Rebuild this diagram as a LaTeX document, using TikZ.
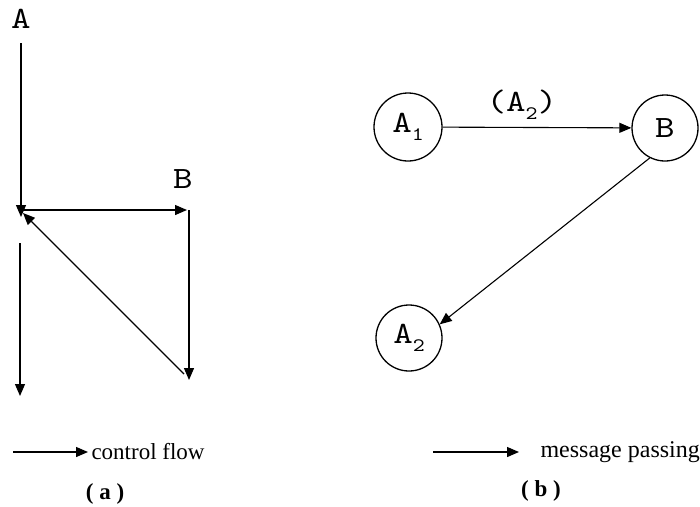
\documentclass[tikz,border=0pt]{standalone}
\usepackage{fontspec}
\setmainfont{Liberation Serif}
\newfontfamily\courfont[FakeStretch=1.2]{lmmono10-regular.otf}
\usetikzlibrary{arrows.meta}
\newcommand{\lowsub}[1]{\raisebox{-8pt}{\fontsize{19}{19}\selectfont#1}}

\begin{document}
\begin{tikzpicture}[x=1pt,y=-1pt,
		flow/.style={line width=1.3pt,-{Triangle[length=12pt,width=10pt]}},
		msg/.style={line width=1.1pt,-{Triangle[length=12pt,width=10pt]}},
		lbl/.style={font=\courfont\fontsize{31}{31}\selectfont},
		proc/.style={circle,draw,line width=1.3pt,minimum size=68pt,inner sep=0pt,lbl},
		legend/.style={font=\fontsize{23}{23}\selectfont,anchor=west}]
		\useasboundingbox (0,0) rectangle (700,506);
		\node[lbl] (A) at (21,19) {A};
		\node[lbl] (B) at (183,179) {B};
		\coordinate (a0) at (21,43);
		\coordinate (j) at (21,217);
		\coordinate (h0) at (22,210);
		\coordinate (h1) at (187,210);
		\coordinate (v0) at (189,210);
		\coordinate (v1) at (189,380);
		\coordinate (d0) at (184,374);
		\coordinate (d1) at (23,213);
		\coordinate (l0) at (20,243);
		\coordinate (l1) at (20,396);
		\draw[flow] (a0) -- (j);
		\draw[flow] (h0) -- (h1);
		\draw[flow] (v0) -- (v1);
		\draw[flow] (d0) -- (d1);
		\draw[flow] (l0) -- (l1);
		\node[proc] (A1) at (408,127) {A\lowsub{1}};
		\node[proc,minimum size=66pt] (Bp) at (665,128) {B};
		\node[proc,minimum size=66pt] (A2) at (409,338) {A\lowsub{2}};
		\draw[msg] (A1) -- (Bp) node[pos=0.42,above=4pt,lbl] (m) {(A\lowsub{2})};
		\draw[msg] (Bp.243) -- (A2.24);
		\coordinate (cf0) at (13,452);
		\node[legend] (cf) at (88,452) {control flow};
		\draw[flow] (cf0) -- (cf.west);
		\coordinate (mp0) at (433,452);
		\node[legend,font=\fontsize{24}{24}\selectfont] (mp) at (537,452) {message passing};
		\draw[flow] (mp0) -- (519,452);
		\node[font=\bfseries\fontsize{23}{23}\selectfont] (ca) at (105,494) {( a )};
		\node[font=\bfseries\fontsize{23}{23}\selectfont] (cb) at (541,491) {( b )};
	\end{tikzpicture}
\end{document}
